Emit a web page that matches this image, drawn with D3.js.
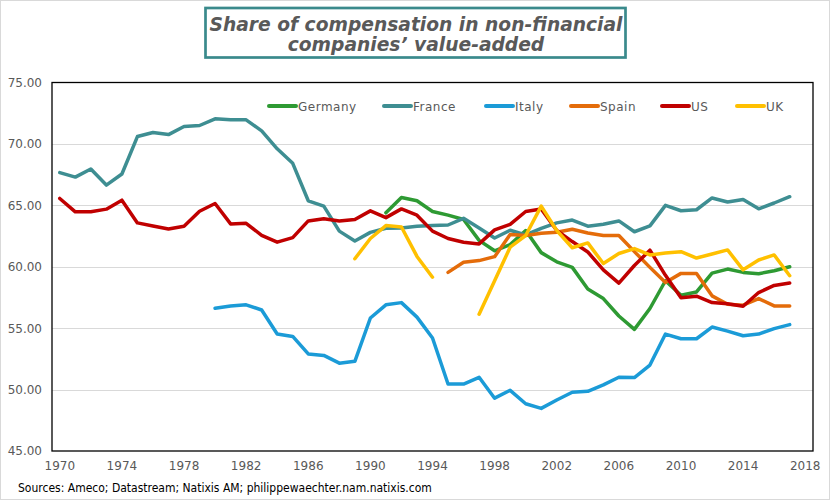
<!DOCTYPE html>
<html><head><meta charset="utf-8">
<script src="https://cdn.jsdelivr.net/npm/d3@7/dist/d3.min.js"></script>
<style>html,body{margin:0;padding:0;background:#fff}svg{display:block}</style>
</head><body>
<svg id="c" width="830" height="500"></svg>
<script>
const years = d3.range(1970, 2019);           // category axis 1970..2018
const tickYears = [1970,1974,1978,1982,1986,1990,1994,1998,2002,2006,2010,2014,2018];
const yTicks = [45,50,55,60,65,70,75];

const germanyStart = 1991;
const germany = [64.39,65.64,65.37,64.5,64.2,63.85,62.15,61.3,61.8,62.95,61.15,60.4,59.95,58.18,57.41,55.99,54.9,56.6,58.86,57.68,57.95,59.48,59.81,59.54,59.43,59.68,60.0];
const franceStart = 1970;
const france = [67.66,67.3,67.96,66.65,67.55,70.6,70.93,70.76,71.42,71.5,72.04,71.96,71.96,71.06,69.6,68.42,65.37,64.93,62.9,62.1,62.8,63.13,63.16,63.3,63.35,63.4,63.94,63.16,62.34,62.97,62.59,63.13,63.57,63.8,63.3,63.46,63.73,62.85,63.33,65.0,64.56,64.64,65.6,65.27,65.48,64.72,65.19,65.7];
const italyStart = 1980;
const italy = [56.62,56.81,56.9,56.48,54.52,54.33,52.9,52.78,52.15,52.3,55.83,56.9,57.08,55.9,54.2,50.45,50.45,51.0,49.3,49.94,48.85,48.47,49.15,49.78,49.86,50.38,51.0,50.98,52.0,54.52,54.14,54.14,55.09,54.76,54.38,54.52,54.96,55.29];
const spainStart = 1995;
const spain = [59.54,60.36,60.5,60.82,62.62,62.54,62.73,62.81,63.05,62.75,62.54,62.54,61.23,59.95,58.72,59.46,59.46,57.63,56.95,56.87,57.41,56.81,56.81];
const usStart = 1970;
const us = [65.56,64.47,64.47,64.69,65.42,63.57,63.32,63.08,63.3,64.52,65.15,63.49,63.54,62.56,62.0,62.37,63.73,63.9,63.73,63.84,64.55,64.0,64.71,64.2,62.9,62.3,62.0,61.86,63.0,63.45,64.5,64.7,62.95,62.05,61.2,59.75,58.67,60.1,61.35,59.3,57.47,57.6,57.08,56.98,56.78,57.9,58.48,58.67];
const ukStart = 1989;
const uk = [60.65,62.3,63.35,63.24,60.84,59.15,null,null,56.13,58.86,61.59,62.54,64.94,62.95,61.55,61.94,60.26,61.08,61.48,60.96,61.12,61.23,60.71,61.04,61.37,59.75,60.55,60.96,59.27];

const seriesNames = ["Germany","France","Italy","Spain","US","UK"];
const seriesColors = ["#2e9a33","#3e8e92","#1b9bd7","#e46c0a","#c00000","#ffc000"];
const seriesData = [[germanyStart,germany],[franceStart,france],[italyStart,italy],[spainStart,spain],[usStart,us],[ukStart,uk]];

const svg = d3.select("#c");
const font = "DejaVu Sans, Verdana, sans-serif";
const grey = "#595959";

// outer frame
svg.append("rect").attr("x",0.5).attr("y",0.5).attr("width",829).attr("height",499)
  .attr("fill","#fff").attr("stroke","#d9d9d9");

const L=52, R=813, T=82.5, B=451;
const x = d3.scaleBand().domain(years).range([L,R]).paddingInner(0).paddingOuter(0);
const y = d3.scaleLinear().domain([45,75]).range([B,T]);
const xc = yr => x(yr) + x.bandwidth()/2;

// gridlines
svg.append("g").selectAll("line").data(yTicks.filter(v=>v>45 && v<75)).join("line")
  .attr("x1",L).attr("x2",R).attr("y1",d=>Math.round(y(d))+0.5).attr("y2",d=>Math.round(y(d))+0.5)
  .attr("stroke","#d9d9d9").attr("stroke-width",1);

// plot border
svg.append("rect").attr("x",L).attr("y",T).attr("width",R-L).attr("height",B-T)
  .attr("fill","none").attr("stroke","#000").attr("stroke-width",1.3);

// y axis
const yAxis = d3.axisLeft(y).tickValues(yTicks).tickSize(0).tickPadding(10).tickFormat(d3.format(".2f"));
const gy = svg.append("g").attr("transform",`translate(${L},0)`).call(yAxis);
gy.select(".domain").remove();
gy.selectAll("text").attr("font-family",font).attr("font-size",12).attr("fill",grey);

// x axis
const xAxis = d3.axisBottom(x).tickValues(tickYears).tickSize(0).tickPadding(10);
const gx = svg.append("g").attr("transform",`translate(0,${B})`).call(xAxis);
gx.select(".domain").remove();
gx.selectAll("text").attr("font-family",font).attr("font-size",12).attr("fill",grey);

// lines
const line = d3.line().defined(d=>d.v!=null).x(d=>xc(d.yr)).y(d=>y(d.v)).curve(d3.curveLinear);
seriesData.forEach(([start,vals],i)=>{
  const pts = vals.map((v,k)=>({yr:start+k, v}));
  svg.append("path").datum(pts).attr("d",line).attr("fill","none")
    .attr("stroke",seriesColors[i]).attr("stroke-width",3.5)
    .attr("stroke-linejoin","round").attr("stroke-linecap","round");
});

// legend
const legX = [269,384,486,571,662,737];
const lg = svg.append("g");
seriesNames.forEach((n,i)=>{
  lg.append("line").attr("x1",legX[i]).attr("x2",legX[i]+27).attr("y1",106).attr("y2",106)
    .attr("stroke",seriesColors[i]).attr("stroke-width",4).attr("stroke-linecap","round");
  lg.append("text").attr("x",legX[i]+29).attr("y",110.5).text(n)
    .attr("font-family",font).attr("font-size",12).attr("letter-spacing",0.5).attr("fill",grey);
});

// title box
svg.append("rect").attr("x",205.5).attr("y",8).attr("width",420).attr("height",49.5)
  .attr("fill","#fff").attr("stroke","#3a8a8c").attr("stroke-width",2.7);
const titleLines = ["Share of compensation in non-financial","companies\u2019 value-added"];
const tt = svg.append("g");
const t1 = tt.append("text").attr("x",416).attr("y",30.5).text(titleLines[0]);
const t2 = tt.append("text").attr("x",416).attr("y",51).text(titleLines[1]);
tt.selectAll("text").attr("text-anchor","middle").attr("font-family",font)
  .attr("font-weight","bold").attr("font-style","italic").attr("font-size",19).attr("fill",grey);
const w1 = t1.node().getComputedTextLength();
if (w1 > 413) { t1.attr("textLength",413).attr("lengthAdjust","spacingAndGlyphs");
  const w2 = t2.node().getComputedTextLength(); t2.attr("textLength",w2*413/w1).attr("lengthAdjust","spacingAndGlyphs"); }

// source
svg.append("text").attr("x",18).attr("y",491.5)
  .text("Sources: Ameco; Datastream; Natixis AM; philippewaechter.nam.natixis.com")
  .attr("font-family","DejaVu Sans Condensed, sans-serif").attr("font-size",12).attr("fill","#000");
</script>
</body></html>
